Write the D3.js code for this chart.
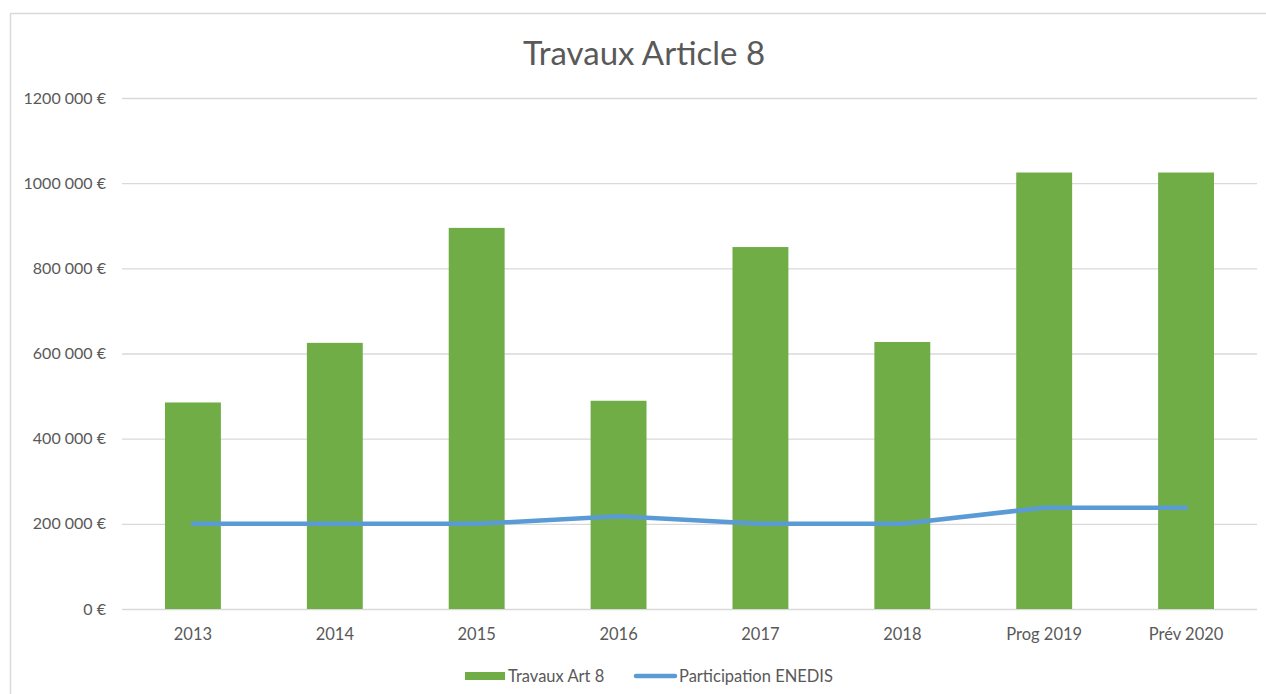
<!DOCTYPE html>
<html><head><meta charset="utf-8">
<script src="https://cdn.jsdelivr.net/npm/d3@7"></script>
<style>
html,body{margin:0;padding:0;background:#fff;}
svg text{font-family:Lato,"Open Sans",sans-serif;fill:#595959;}
</style></head>
<body><svg id="chart" width="1266" height="694"></svg>
<script>
const title = "Travaux Article 8";
const categories = ["2013","2014","2015","2016","2017","2018","Prog 2019","Prév 2020"];
const travaux = [485000, 625000, 895000, 489000, 850000, 627000, 1025000, 1025000];
const participation = [200000, 200000, 200000, 218000, 200000, 200000, 238000, 238000];
const tickValues = [0, 200000, 400000, 600000, 800000, 1000000, 1200000];
const tickLabels = ["0 €", "200 000 €", "400 000 €", "600 000 €", "800 000 €", "1000 000 €", "1200 000 €"];
const seriesNames = ["Travaux Art 8", "Participation ENEDIS"];

const svg = d3.select("#chart");
// outer chart border
svg.append("path").attr("d","M10.5,694 V13.5 H1266").attr("fill","none").attr("stroke","#d9d9d9").attr("stroke-width",1.5);

const x = d3.scaleBand().domain(categories).range([122,1257]).paddingInner(0.606).paddingOuter(0.303);
const y = d3.scaleLinear().domain([0,1200000]).range([609,98]);

svg.append("text").attr("x",644).attr("y",52).attr("text-anchor","middle").attr("dominant-baseline","central")
  .style("font-size","33px").text(title);

// grid
const grid = svg.append("g").attr("transform","translate(122,0)")
  .call(d3.axisLeft(y).tickValues(tickValues).tickSize(-1135).tickFormat(""));
grid.select(".domain").remove();
grid.selectAll("line").attr("stroke","#d9d9d9").attr("stroke-width",1.3);

// y labels
const ya = svg.append("g").attr("transform","translate(106,0)")
  .call(d3.axisLeft(y).tickValues(tickValues).tickSize(0).tickPadding(0).tickFormat((d,i)=>tickLabels[i]));
ya.select(".domain").remove();
ya.selectAll("text").style("font-size","16px").attr("fill","#595959");

// bars
svg.append("g").selectAll("rect").data(travaux).join("rect")
  .attr("x",(d,i)=>x(categories[i])).attr("width",x.bandwidth())
  .attr("y",d=>y(d)).attr("height",d=>y(0)-y(d)).attr("fill","#70AD47");

// x labels
const xa = svg.append("g").attr("transform","translate(0,624)")
  .call(d3.axisBottom(x).tickSize(0).tickPadding(4));
xa.select(".domain").remove();
xa.selectAll("text").style("font-size","16.5px").attr("fill","#595959");

// line
const line = d3.line().x((d,i)=>x(categories[i])+x.bandwidth()/2).y(d=>y(d));
svg.append("path").datum(participation).attr("d",line).attr("fill","none")
  .attr("stroke","#5B9BD5").attr("stroke-width",4.5).attr("stroke-linecap","round").attr("stroke-linejoin","round");

// legend
const lg = svg.append("g");
lg.append("rect").attr("x",465).attr("y",672).attr("width",40).attr("height",8).attr("fill","#70AD47");
lg.append("text").attr("x",508).attr("y",676).attr("dominant-baseline","central").style("font-size","16.5px").text(seriesNames[0]);
lg.append("line").attr("x1",636).attr("x2",675).attr("y1",676).attr("y2",676).attr("stroke","#5B9BD5").attr("stroke-width",4.5).attr("stroke-linecap","round");
lg.append("text").attr("x",679).attr("y",676).attr("dominant-baseline","central").style("font-size","16.5px").text(seriesNames[1]);
</script></body></html>
